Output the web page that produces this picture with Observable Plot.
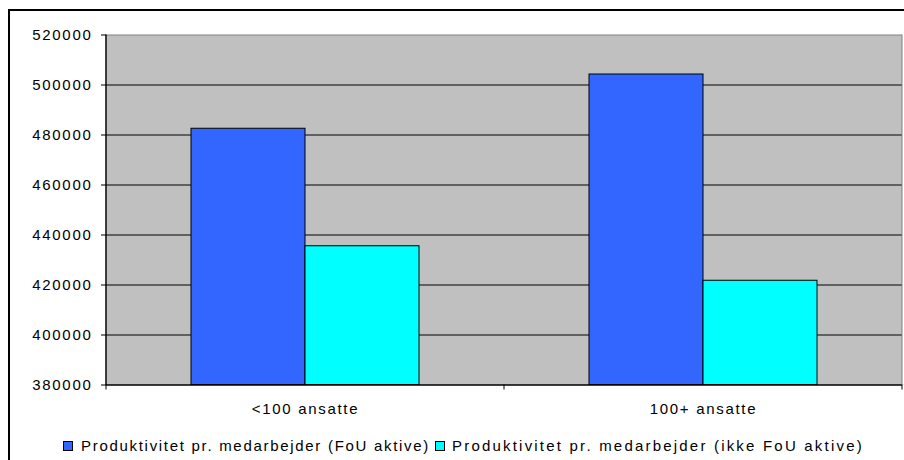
<!DOCTYPE html>
<html>
<head>
<meta charset="utf-8">
<script src="https://cdn.jsdelivr.net/npm/d3@7"></script>
<script src="https://cdn.jsdelivr.net/npm/@observablehq/plot@0.6"></script>
<style>
  html, body { margin: 0; padding: 0; background: #fff; }
  #wrap { position: relative; width: 904px; height: 460px; overflow: hidden; background: #fff;
          font-family: "Liberation Sans", Arial, sans-serif; }
  #border { position: absolute; left: 8px; top: 9px; width: 920px; height: 480px;
            border-top: 2px solid #000; border-left: 2px solid #000; pointer-events: none; }
  #chart { position: absolute; left: 0; top: 0; }
  #chart svg text { letter-spacing: 1.7px; }
  #legend { position: absolute; left: 63px; top: 436px; display: flex; align-items: center;
            font-size: 15px; letter-spacing: 1.7px; color: #000; white-space: nowrap; line-height: 20px; }
  .sw { width: 8px; height: 8px; border: 1px solid #000; display: inline-block; }
</style>
</head>
<body>
<div id="wrap">
  <div id="chart"></div>
  <div id="legend"></div>
  <div id="border"></div>
</div>
<script>
const categories = ["<100 ansatte", "100+ ansatte"];
const series = ["Produktivitet pr. medarbejder (FoU aktive)", "Produktivitet pr. medarbejder (ikke FoU aktive)"];
const fouAktive = [482500, 504200];
const ikkeFouAktive = [435500, 421700];
const yTicks = [380000, 400000, 420000, 440000, 460000, 480000, 500000, 520000];
const colors = ["#3366FF", "#00FFFF"];

const seriesValues = [fouAktive, ikkeFouAktive];
const data = [];
categories.forEach((c, i) => series.forEach((s, j) => data.push({cat: c, ser: s, value: seriesValues[j][i]})));

const yMin = yTicks[0], yMax = yTicks[yTicks.length - 1];

const plot = Plot.plot({
  width: 904,
  height: 420,
  marginTop: 34.5,
  marginBottom: 35.5,
  marginLeft: 105,
  marginRight: 2,
  style: {fontFamily: "'Liberation Sans', Arial, sans-serif", fontSize: "15px", color: "#000", background: "transparent"},
  fx: {domain: categories, padding: 0, label: null},
  x: {domain: series, paddingInner: 0, paddingOuter: 0.7326, axis: null},
  y: {domain: [yMin, yMax], label: null},
  color: {domain: series, range: colors},
  marks: [
    Plot.frame({fill: "#c0c0c0", stroke: "none", insetRight: -1.5}),
    Plot.gridY(yTicks.slice(1, -1), {stroke: "#000", strokeOpacity: 1, strokeWidth: 1}),
    Plot.ruleY([yMax], {stroke: "#808080", strokeWidth: 1}),
    Plot.barY(data, {fx: "cat", x: "ser", y1: () => yMin, y2: "value", fill: "ser", stroke: "#000", strokeWidth: 1}),
    Plot.ruleY([yMin], {stroke: "#000", strokeWidth: 1.5}),
    Plot.axisY({ticks: yTicks, tickSize: 5, tickPadding: 9, tickFormat: d => String(d), label: null, stroke: "#000"}),
    Plot.axisFx({anchor: "bottom", tickSize: 0, tickPadding: 18, label: null})
  ]
});
document.getElementById("chart").appendChild(plot);

// Axis line, right border and category boundary ticks from the plot's scales
const fx = plot.scale("fx");
const y = plot.scale("y");
const svg = d3.select(plot.tagName === "svg" ? plot : plot.querySelector("svg"));
const yTop = y.apply(yMax), yBot = y.apply(yMin);
const edges = categories.map(c => fx.apply(c)).concat([fx.apply(categories[categories.length - 1]) + fx.bandwidth]);
const g = svg.append("g");
g.append("rect").attr("x", edges[edges.length - 1]).attr("y", yTop).attr("width", 10).attr("height", yBot - yTop).attr("fill", "#fff");
g.append("line").attr("x1", edges[edges.length - 1]).attr("x2", edges[edges.length - 1])
  .attr("y1", yTop).attr("y2", yBot).attr("stroke", "#808080");
g.selectAll("line.tk").data(edges).join("line").attr("class", "tk")
  .attr("x1", d => d).attr("x2", d => d).attr("y1", yBot).attr("y2", yBot + 5).attr("stroke", "#000");
g.append("line").attr("x1", edges[0]).attr("x2", edges[0])
  .attr("y1", yTop).attr("y2", yBot + 0.75).attr("stroke", "#000").attr("stroke-width", 1.5);

// Legend
const legend = d3.select("#legend");
series.forEach((s, i) => {
  legend.append("span").attr("class", "sw").style("background", colors[i])
    .style("margin-left", i === 0 ? "0px" : "5px").style("margin-right", i === 0 ? "8px" : "7px");
  legend.append("span").text(s).style("letter-spacing", i === 0 ? "1.7px" : "2.2px");
});
</script>
</body>
</html>
